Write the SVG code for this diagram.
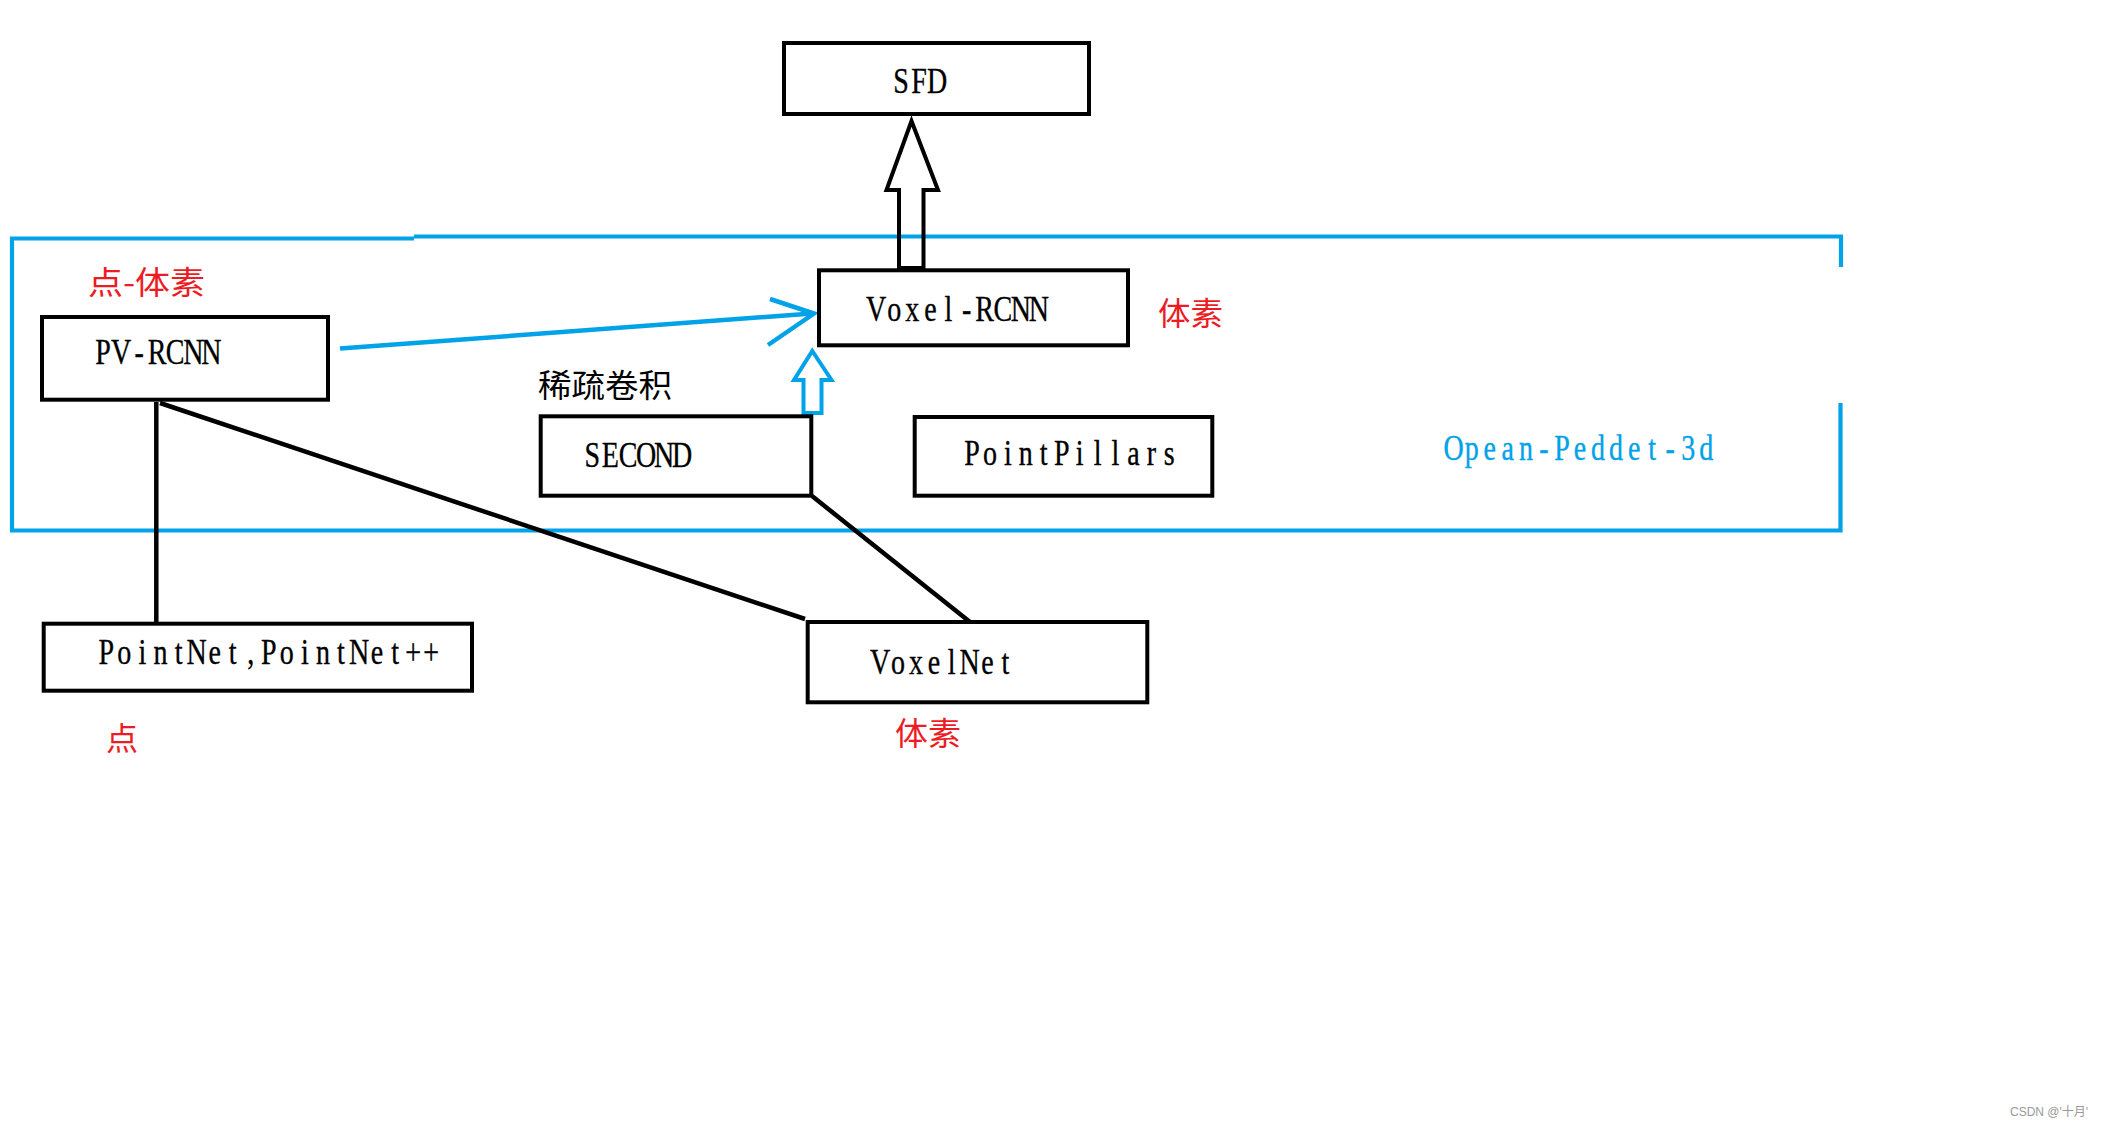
<svg xmlns="http://www.w3.org/2000/svg" width="2110" height="1126" viewBox="0 0 2110 1126">
<style>
.box{fill:#fff;stroke:#000;stroke-width:4}
.t{font-family:"Liberation Serif",serif;font-size:35px;fill:#000;text-anchor:middle;stroke:#000;stroke-width:0.35}
.cn{font-family:"Noto Sans CJK SC",sans-serif;font-size:32px}
.red{fill:#ED1C24}
.blk{fill:#000}
.blueT{fill:#00A2E8;stroke:#00A2E8}
.ln{stroke:#000;stroke-width:4.5;fill:none}
.bl{stroke:#00A2E8;stroke-width:4.5;fill:none}
</style>
<rect width="2110" height="1126" fill="#fff"/>
<g id="group-opean-peddet-3d">
<path d="M414 238.5 H12 V530.5 H1840.5 V403" fill="none" stroke="#00A2E8" stroke-width="4.2"/>
<path d="M414 236.5 H1841 V267" fill="none" stroke="#00A2E8" stroke-width="4.2"/>
<text class="t blueT" transform="scale(0.8 1)" x="1817.15 1839.7 1862.25 1884.8 1907.35 1929.9 1952.45 1975 1997.55 2020.1 2042.65 2065.2 2087.75 2110.3 2132.85" y="460">Opean-Peddet-3d</text>
</g>
<g id="connectors">
<line class="ln" x1="156.3" y1="402" x2="156.3" y2="622"/>
<line class="ln" x1="160" y1="403" x2="805" y2="619"/>
<line class="ln" stroke-width="4.2" x1="812" y1="496" x2="970" y2="622"/>
<line class="bl" x1="340" y1="348.5" x2="812" y2="313.5"/>
<polyline class="bl" points="770,299 814,313.5 768,345"/>
<polygon points="911.5,121 938,190 923.5,190 923.5,268 899,268 899,190 886.5,190" fill="none" stroke="#000" stroke-width="4"/>
<polygon points="812.3,351 831.5,380 821.5,380 821.5,413 803.5,413 803.5,380 794,380" fill="#fff" stroke="#00A2E8" stroke-width="4"/>
</g>
<g id="node-sfd">
<rect class="box" x="784" y="43" width="305" height="71"/>
<text class="t" transform="scale(0.8 1)" x="1126.25 1148.75 1171.25" y="92.7">SFD</text>
</g>
<g id="node-voxel-rcnn">
<rect class="box" x="819" y="270.3" width="309" height="75"/>
<text class="t" transform="scale(0.8 1)" x="1095.06 1117.69 1140.31 1162.94 1185.56 1208.19 1230.81 1253.44 1276.06 1298.69" y="320.7">Voxel-RCNN</text>
<text class="cn red" x="1158" y="325" textLength="65" lengthAdjust="spacingAndGlyphs">体素</text>
</g>
<g id="node-pv-rcnn">
<rect class="box" x="42" y="317" width="286" height="82.7"/>
<text class="t" transform="scale(0.8 1)" x="128.75 151.38 173.88 196.5 219 241.63 264.13" y="364.3">PV-RCNN</text>
<text class="cn red" x="88" y="294" textLength="117" lengthAdjust="spacingAndGlyphs">点-体素</text>
</g>
<g id="node-second">
<rect class="box" x="540.7" y="416.3" width="270.6" height="79.4"/>
<text class="t" transform="scale(0.8 1)" x="740.38 762.75 785.25 807.63 830.13 852.5" y="466.7">SECOND</text>
<text class="cn blk" x="538" y="397" textLength="134" lengthAdjust="spacingAndGlyphs">稀疏卷积</text>
</g>
<g id="node-pointpillars">
<rect class="box" x="914.7" y="417" width="297.6" height="78.7"/>
<text class="t" transform="scale(0.8 1)" x="1214.96 1237.39 1259.81 1282.24 1304.66 1327.09 1349.51 1371.94 1394.36 1416.79 1439.21 1461.64" y="465">PointPillars</text>
</g>
<g id="node-pointnet">
<rect class="box" x="43.7" y="623.7" width="428.3" height="67"/>
<text class="t" transform="scale(0.8 1)" x="132.91 155.47 178.04 200.6 223.16 245.72 268.29 290.85 313.41 335.97 358.54 381.1 403.66 426.22 448.79 471.35 493.91 516.47 539.04" y="664.3">PointNet,PointNet++</text>
<text class="cn red" x="106" y="749.5">点</text>
</g>
<g id="node-voxelnet">
<rect class="box" x="807.7" y="622" width="339.6" height="80.3"/>
<text class="t" transform="scale(0.8 1)" x="1100.3 1122.64 1144.99 1167.33 1189.68 1212.01 1234.36 1256.7" y="674.3">VoxelNet</text>
<text class="cn red" x="895" y="745" textLength="66" lengthAdjust="spacingAndGlyphs">体素</text>
</g>
<text x="2010" y="1116" font-family="Liberation Sans,'Noto Sans CJK SC',sans-serif" font-size="12" fill="#999">CSDN @'十月'</text>
</svg>
